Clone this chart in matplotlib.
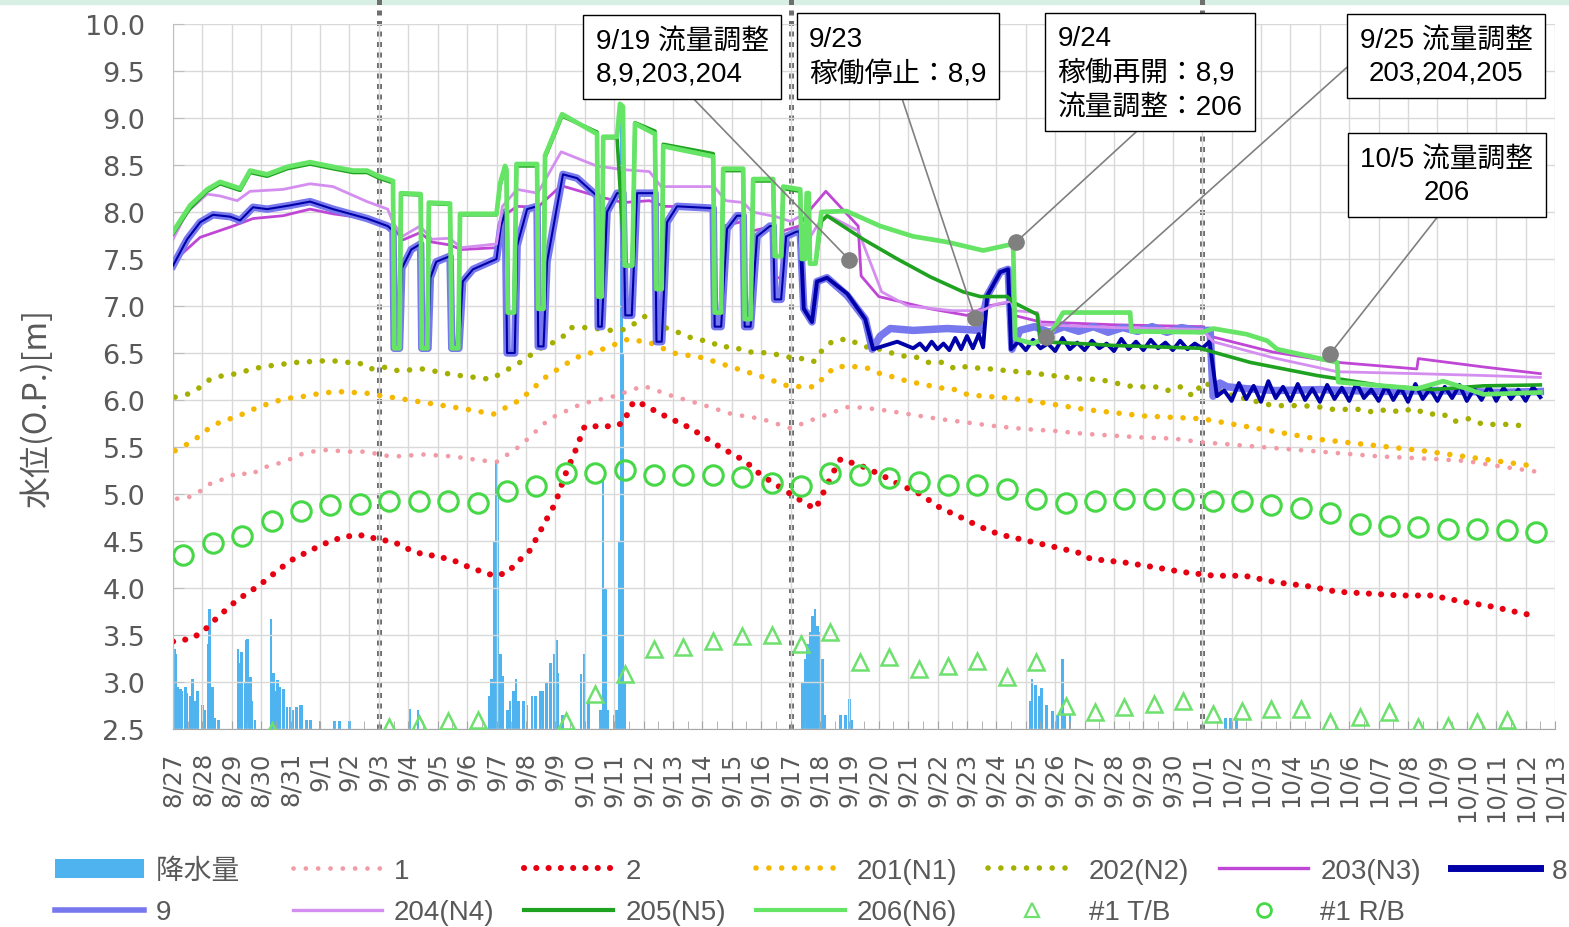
import numpy as np
import pandas as pd
import matplotlib
matplotlib.use("Agg")
import matplotlib.pyplot as plt
import matplotlib.dates as mdates
from matplotlib.ticker import FuncFormatter, FormatStrFormatter, MultipleLocator
from matplotlib.font_manager import FontProperties
from matplotlib.patches import Patch, Rectangle
from matplotlib.lines import Line2D

plt.rcParams['font.family'] = ['DejaVu Sans', 'Noto Sans CJK JP']
SANS_JP = ['Liberation Sans', 'Noto Sans CJK JP']

start = pd.Timestamp("2019-08-27")
n_days = 47

# hourly rainfall [mm]: hours since 8/27 00:00
rain_h = [1, 2, 4, 6, 7, 10, 11, 14, 16, 18, 20, 24, 26, 29, 30, 32, 34, 37,
          53, 55, 56, 59, 60, 61, 63, 64, 67,
          80, 82, 83, 85, 87, 90, 93, 96, 98, 101, 104, 105, 109, 112,
          120, 132, 136, 144, 193, 200,
          258, 260, 262, 264, 265, 267, 269, 273, 275, 278, 280, 282, 286, 289,
          293, 296, 300, 302, 305, 308, 311, 313, 314, 318, 333, 336, 339,
          349, 351, 353, 355, 360, 362, 364, 366, 367, 369,
          514, 516, 518, 520, 522, 524, 526, 528, 530, 532, 545, 549, 552, 554,
          700, 701, 704, 707, 709, 713, 718, 722, 726, 728, 732,
          859, 863, 868]
rain_mm = [8.5, 8.0, 4.5, 4.2, 4.0, 4.5, 3.8, 3.5, 5.3, 3.0, 4.0, 2.5, 2.0, 9.0, 12.8, 4.5, 1.2, 1.0,
           8.5, 7.0, 8.2, 5.0, 9.5, 9.6, 5.5, 3.0, 1.0,
           11.7, 6.0, 4.0, 5.2, 4.5, 4.2, 2.3, 2.3, 2.0, 2.3, 2.5, 2.5, 1.0, 1.0,
           0.8, 0.8, 0.8, 0.8, 2.1, 2.0,
           3.5, 5.3, 20.0, 28.5, 25.0, 8.0, 5.6, 2.0, 3.0, 4.0, 5.3, 3.0, 3.0, 2.5,
           3.5, 3.5, 4.0, 4.0, 5.0, 7.0, 8.0, 9.5, 6.0, 1.5, 5.8, 8.0, 3.0,
           2.0, 26.6, 15.0, 2.0, 1.5, 2.0, 20.0, 66.5, 40.0, 5.0,
           5.0, 7.4, 9.0, 10.3, 12.0, 12.8, 11.0, 10.3, 7.4, 1.5, 1.5, 1.5, 3.2, 1.0,
           3.0, 5.3, 4.7, 3.5, 4.4, 2.5, 1.9, 1.5, 7.4, 1.5, 1.5,
           1.2, 1.2, 1.2]

# observation wells (days since 8/27 00:00)
t1 = [0.14, 0.5, 0.92, 1.36, 1.77, 2.21, 2.62, 3.06, 3.54, 3.98, 4.42, 4.9, 5.34, 5.78, 6.19,
      6.63, 7.11, 7.62, 8.5, 9.5, 10.4, 11.0, 11.8, 12.8, 13.9, 15.0, 16.0, 17.0, 18.0, 19.0,
      20.0, 21.0, 22.0, 23.0, 24.0, 25.0, 26.0, 27.0, 28.0, 29.0, 30.0, 31.0, 32.0, 33.0, 34.0,
      35.0, 37.0, 39.0, 41.0, 43.0, 44.0, 45.0, 46.3]
v1 = [4.95, 4.96, 5.03, 5.13, 5.16, 5.23, 5.20, 5.28, 5.32, 5.37, 5.43, 5.46, 5.47, 5.45, 5.45,
      5.45, 5.41, 5.40, 5.42, 5.40, 5.36, 5.34, 5.51, 5.80, 5.96, 6.04, 6.15, 6.04, 5.95, 5.85,
      5.80, 5.70, 5.82, 5.93, 5.90, 5.85, 5.80, 5.76, 5.72, 5.69, 5.67, 5.64, 5.62, 5.60, 5.59,
      5.55, 5.50, 5.45, 5.40, 5.37, 5.35, 5.30, 5.24]

t2 = [0.0, 0.6, 1.0, 1.35, 1.7, 2.1, 2.5, 2.9, 3.3, 3.7, 4.1, 4.55, 5.0, 5.45, 5.95,
      6.45, 6.95, 7.5, 8.03, 8.47, 8.95, 9.56, 10.0, 10.44, 10.92, 11.36, 11.73, 12.14, 12.65, 13.0,
      13.33, 13.67, 14.0, 14.85, 15.3, 15.6, 15.75, 16.6, 17.6, 18.6, 19.45, 20.0, 21.0, 21.5, 21.85,
      22.4, 22.7, 23.4, 24.1, 24.7, 25.4, 26.1, 26.8, 27.45, 28.1, 28.8, 29.5, 30.2, 30.85, 31.2,
      32.38, 33.4, 34.32, 35.41, 36.43, 37.52, 38.57, 39.59, 40.68, 41.77, 42.82, 43.91, 44.9, 45.88, 46.39]
v2 = [3.43, 3.46, 3.53, 3.64, 3.74, 3.85, 3.94, 4.02, 4.12, 4.22, 4.31, 4.38, 4.45, 4.51, 4.55,
      4.56, 4.52, 4.49, 4.41, 4.36, 4.34, 4.29, 4.23, 4.18, 4.13, 4.16, 4.28, 4.40, 4.70, 4.90,
      5.20, 5.45, 5.72, 5.72, 5.75, 5.95, 5.99, 5.85, 5.70, 5.50, 5.35, 5.20, 5.00, 4.90, 4.84,
      5.20, 5.37, 5.30, 5.20, 5.10, 5.00, 4.85, 4.75, 4.65, 4.57, 4.52, 4.47, 4.42, 4.37, 4.31,
      4.27, 4.22, 4.17, 4.13, 4.13, 4.06, 4.02, 3.96, 3.94, 3.92, 3.92, 3.85, 3.80, 3.73, 3.70]

t201 = [0.07, 0.48, 0.92, 1.26, 1.7, 2.18, 2.55, 3.06, 3.54, 3.98, 4.49, 5.0, 5.58, 6.12, 6.63,
        7.14, 7.62, 8.0, 9.0, 10.0, 10.9, 11.8, 12.7, 13.7, 14.7, 15.5, 16.3, 17.0, 18.0, 19.0,
        20.0, 20.9, 21.4, 21.8, 22.1, 22.5, 23.0, 23.6, 24.05, 24.55, 25.07, 25.5, 26.0, 26.5, 27.0,
        27.55, 28.05, 29.0, 31.0, 33.0, 35.0, 37.0, 39.0, 42.5, 46.2]
v201 = [5.46, 5.53, 5.62, 5.71, 5.78, 5.82, 5.88, 5.94, 5.99, 6.02, 6.04, 6.07, 6.09, 6.08, 6.07,
        6.04, 6.02, 6.00, 5.95, 5.90, 5.85, 6.00, 6.25, 6.45, 6.55, 6.65, 6.60, 6.50, 6.45, 6.35,
        6.25, 6.15, 6.14, 6.14, 6.23, 6.35, 6.36, 6.34, 6.28, 6.24, 6.19, 6.17, 6.13, 6.12, 6.06,
        6.04, 6.03, 6.00, 5.90, 5.83, 5.80, 5.69, 5.58, 5.46, 5.30]

t202 = [0.07, 0.48, 0.85, 1.26, 1.7, 2.18, 2.69, 3.2, 3.71, 4.22, 4.76, 5.34, 5.92, 6.29, 6.7,
        7.28, 7.65, 8.5, 9.5, 10.0, 10.8, 11.8, 12.5, 13.2, 13.5, 14.2, 14.8, 15.4, 16.1, 16.8,
        17.35, 17.7, 18.3, 18.6, 19.05, 19.5, 19.9, 20.4, 20.8, 21.1, 21.6, 21.8, 22.1, 22.45, 22.95,
        23.47, 24.05, 24.73, 25.24, 25.68, 26.19, 26.6, 27.04, 27.52, 27.89, 28.37, 28.81, 29.39, 29.9, 30.41,
        30.92, 31.46, 31.94, 32.45, 32.82, 33.4, 33.81, 34.25, 34.69, 35.03, 36.0, 37.4, 38.3, 38.9, 39.45,
        40.4, 40.82, 41.3, 41.74, 42.18, 42.65, 43.2, 43.54, 44.05, 44.56, 45.04, 45.58, 46.1]
v202 = [6.03, 6.06, 6.12, 6.22, 6.26, 6.28, 6.33, 6.36, 6.38, 6.40, 6.41, 6.42, 6.40, 6.40, 6.33,
        6.35, 6.31, 6.33, 6.27, 6.25, 6.22, 6.40, 6.55, 6.65, 6.77, 6.77, 6.74, 6.75, 6.90, 6.76,
        6.70, 6.65, 6.62, 6.56, 6.57, 6.51, 6.51, 6.49, 6.47, 6.44, 6.44, 6.41, 6.54, 6.63, 6.65,
        6.57, 6.54, 6.47, 6.46, 6.40, 6.40, 6.33, 6.36, 6.33, 6.33, 6.31, 6.30, 6.28, 6.26, 6.24,
        6.22, 6.22, 6.19, 6.15, 6.14, 6.14, 6.10, 6.14, 6.04, 6.19, 6.05, 5.94, 5.94, 5.93, 5.90,
        5.90, 5.87, 5.90, 5.87, 5.91, 5.85, 5.85, 5.77, 5.80, 5.74, 5.74, 5.74, 5.71]

# pumping wells
t203 = [0, 0.92, 2.04, 2.72, 3.74, 4.66, 5.44, 6.6, 7.3, 7.48, 7.8, 8.4, 8.8, 9.4, 9.8,
        11.0, 11.2, 11.7, 12.4, 13.2, 14.4, 15.3, 16.2, 16.7, 18.37, 18.44, 18.6, 18.71, 19.39, 19.46,
        19.6, 19.73, 20.41, 20.5, 20.7, 20.75, 21.3, 21.6, 22.2, 23.3, 23.4, 24.0, 25.75, 27.0, 27.7,
        28.5, 28.6, 29.5, 32.0, 35.0, 35.37, 37.4, 39.6, 42.3, 42.35, 44.6, 46.5]
v203 = [7.47, 7.73, 7.85, 7.93, 7.96, 8.03, 7.98, 7.93, 7.87, 7.85, 7.70, 7.78, 7.68, 7.65, 7.60,
        7.62, 7.95, 8.06, 8.05, 8.28, 8.17, 8.10, 8.12, 8.06, 8.05, 6.79, 6.79, 7.85, 7.90, 6.80,
        6.80, 7.80, 7.85, 7.30, 7.30, 7.80, 7.85, 8.00, 8.22, 7.85, 7.32, 7.10, 6.97, 6.90, 7.00,
        7.04, 6.90, 6.83, 6.80, 6.78, 6.67, 6.51, 6.40, 6.33, 6.44, 6.35, 6.28]

t204 = [0, 0.48, 1.16, 1.6, 2.18, 2.62, 3.74, 4.66, 5.44, 6.6, 7.3, 7.48, 7.8, 8.4, 8.8,
        9.4, 9.8, 11.0, 11.2, 11.7, 12.4, 13.2, 14.4, 15.3, 16.2, 16.6, 18.4, 18.8, 19.4, 19.7,
        20.5, 21.0, 21.3, 21.6, 22.0, 22.3, 23.3, 24.1, 25.0, 26.5, 27.5, 28.0, 28.5, 28.6, 29.4,
        29.5, 32.0, 35.0, 35.37, 37.4, 39.6, 42.3, 44.6, 46.5]
v204 = [7.71, 8.00, 8.19, 8.17, 8.12, 8.22, 8.24, 8.30, 8.27, 8.11, 8.03, 7.89, 7.74, 7.85, 7.71,
        7.72, 7.62, 7.66, 8.06, 8.24, 8.20, 8.64, 8.49, 8.45, 8.43, 8.27, 8.27, 8.12, 8.10, 8.00,
        7.95, 7.90, 7.95, 7.70, 7.90, 7.96, 7.80, 7.15, 7.00, 6.95, 6.95, 7.02, 7.05, 6.95, 6.93,
        6.80, 6.77, 6.75, 6.62, 6.45, 6.30, 6.28, 6.26, 6.24]

# wells 8 and 9 share one record until 9/17
t89 = [0, 0.48, 0.92, 1.36, 1.94, 2.28, 2.72, 3.2, 3.98, 4.66, 5.44, 6.6, 7.3, 7.48,
       7.52, 7.7, 7.78, 8.1, 8.42,
       8.46, 8.67, 8.75, 8.95, 9.42,
       9.48, 9.72, 9.85, 10.2, 11.0, 11.15, 11.3,
       11.36, 11.62, 11.7, 12.04, 12.38,
       12.42, 12.6, 12.72, 13.06, 13.26, 13.74, 14.42,
       14.46, 14.58, 14.76, 15.1, 15.3,
       15.38, 15.6, 15.78, 16.39,
       16.44, 16.62, 16.8, 17.14, 18.37,
       18.42, 18.64, 18.84, 19.18, 19.39,
       19.44, 19.64, 19.86, 20.3, 20.41,
       20.46, 20.68, 20.85, 21.2, 21.33]
v89 = [7.43, 7.71, 7.89, 7.97, 7.95, 7.91, 8.05, 8.03, 8.07, 8.11, 8.03, 7.93, 7.85, 7.80,
       6.55, 6.55, 7.40, 7.60, 7.66,
       6.55, 6.55, 7.30, 7.47, 7.53,
       6.55, 6.55, 7.26, 7.39, 7.50, 7.85, 8.00,
       6.50, 6.50, 7.64, 8.03, 8.06,
       6.57, 6.57, 7.47, 8.06, 8.40, 8.36, 8.17,
       6.78, 6.78, 8.00, 8.20, 8.20,
       6.90, 6.90, 8.20, 8.20,
       6.62, 6.62, 7.89, 8.06, 8.04,
       6.78, 6.78, 7.82, 7.96, 7.96,
       6.78, 6.78, 7.74, 7.85, 7.85,
       7.07, 7.07, 7.74, 7.79, 7.79]

t9_late = [21.45, 21.73, 21.9, 22.24, 22.93, 23.54, 23.78, 24.05, 24.39, 25.17, 26.33, 27.45, 27.69,
           28.13, 28.4, 28.53, 28.8, 29.3, 29.8, 30.3, 30.8, 31.3, 31.8, 32.3, 32.8, 33.3, 33.8,
           34.3, 34.8, 35.27, 35.37, 35.6, 35.85, 36.5, 37.5, 39.0, 41.0, 43.0, 45.0, 46.5]
v9_late = [6.97, 6.83, 7.26, 7.30, 7.11, 6.86, 6.54, 6.68, 6.76, 6.74, 6.76, 6.74, 7.11,
           7.36, 7.39, 6.54, 6.74, 6.78, 6.72, 6.78, 6.73, 6.78, 6.72, 6.77, 6.73, 6.78, 6.72,
           6.77, 6.74, 6.74, 6.04, 6.18, 6.14, 6.12, 6.10, 6.11, 6.09, 6.10, 6.08, 6.09]

t8_late = [21.33, 21.45, 21.73, 21.9, 22.24, 22.93, 23.54, 23.81, 24.63, 25.17, 25.4, 25.6, 25.8, 26.0,
           26.2, 26.4, 26.6, 26.8, 27.0, 27.2, 27.4, 27.55, 27.69, 28.13, 28.4, 28.5]
v8_late = [7.79, 6.97, 6.83, 7.26, 7.30, 7.13, 6.86, 6.54, 6.62, 6.55, 6.60, 6.53, 6.62, 6.54,
           6.60, 6.53, 6.66, 6.54, 6.68, 6.55, 6.70, 6.56, 7.11, 7.36, 7.39, 6.54]
# well 8 after restart: readings every 6 h from 9/24 18:00, then from 10/1 12:00
v8_band1 = [6.62, 6.53, 6.64, 6.55, 6.60, 6.52, 6.66, 6.54, 6.61, 6.53, 6.63, 6.55, 6.60, 6.52,
            6.65, 6.54, 6.62, 6.53, 6.64, 6.55, 6.61, 6.53, 6.63, 6.54, 6.60, 6.55, 6.62]
v8_band2 = [6.04, 6.10, 5.99, 6.18, 6.01, 6.15, 5.98, 6.20, 6.02, 6.14, 5.99, 6.17, 6.00, 6.12, 5.98,
            6.16, 6.01, 6.13, 5.99, 6.18, 6.02, 6.11, 5.99, 6.15, 6.00, 6.13, 5.98, 6.17, 6.01, 6.12,
            5.99, 6.14, 6.02, 6.16, 5.99, 6.12, 6.00, 6.15, 5.99, 6.13, 6.01, 6.11, 5.99, 6.14, 6.03]

t205 = [0, 0.58, 1.16, 1.6, 2.28, 2.62, 3.2, 3.88, 4.66, 5.44, 6.12, 6.6, 7.0, 7.48,
        7.52, 7.7, 7.75, 8.42,
        8.46, 8.65, 8.7, 9.42,
        9.48, 9.7, 9.76, 11.0, 11.12, 11.29, 11.34,
        11.38, 11.6, 11.68, 12.38,
        12.42, 12.6, 12.65, 13.23, 14.42,
        14.46, 14.58, 14.63, 15.1,
        15.36, 15.62, 15.71, 16.39,
        16.44, 16.62, 16.67, 18.37,
        18.42, 18.64, 18.71, 19.39,
        19.44, 19.64, 19.73, 20.41,
        20.46, 20.68, 20.75, 21.33,
        21.38, 21.5, 21.55, 21.62, 21.66, 21.85, 22.05, 22.24, 23.47, 24.63, 25.75, 26.87, 27.45, 28.37, 28.57, 29.39,
        29.49, 30.85, 31.97, 34.93, 35.37, 36.63, 38.91, 41.16, 42.86, 44.56, 46.5]
v205 = [7.77, 8.04, 8.22, 8.30, 8.23, 8.42, 8.38, 8.46, 8.51, 8.46, 8.42, 8.42, 8.36, 8.31,
        6.55, 6.55, 8.19, 8.18,
        6.55, 6.55, 8.09, 8.08,
        6.55, 6.55, 7.97, 7.97, 8.28, 8.47, 8.43,
        6.93, 6.93, 8.49, 8.49,
        6.97, 6.97, 8.58, 9.02, 8.85,
        7.10, 7.10, 8.79, 8.79,
        7.43, 7.43, 8.95, 8.86,
        7.18, 7.18, 8.72, 8.62,
        6.93, 6.93, 8.44, 8.44,
        6.86, 6.86, 8.33, 8.33,
        7.53, 7.53, 8.25, 8.22,
        7.50, 7.50, 8.18, 8.18, 7.45, 7.45, 7.90, 7.96, 7.71, 7.50, 7.31, 7.15, 7.10, 7.10, 7.04, 6.91,
        6.62, 6.60, 6.58, 6.55, 6.51, 6.40, 6.26, 6.15, 6.11, 6.15, 6.16]

t206 = [0, 0.58, 1.16, 1.6, 2.28, 2.62, 3.2, 3.88, 4.66, 5.44, 6.12, 6.6, 7.0, 7.48,
        7.52, 7.7, 7.75, 8.42,
        8.46, 8.65, 8.7, 9.42,
        9.48, 9.7, 9.76, 11.0, 11.12, 11.29, 11.34,
        11.38, 11.6, 11.68, 12.38,
        12.42, 12.6, 12.65, 13.23, 14.42,
        14.46, 14.58, 14.63, 15.1, 15.2, 15.3,
        15.36, 15.62, 15.71, 16.39,
        16.44, 16.62, 16.67, 18.37,
        18.42, 18.64, 18.71, 19.39,
        19.44, 19.64, 19.73, 20.41,
        20.46, 20.68, 20.75, 21.33,
        21.38, 21.5, 21.55, 21.62, 21.66, 21.85, 22.05, 22.9, 24.05, 25.17, 26.33, 27.55, 28.57,
        28.64, 29.25, 29.8, 30.27, 32.55, 32.59, 35.0, 35.37, 36.5, 37.21, 37.55, 39.59, 39.63,
        42.31, 43.2, 44.01, 44.56, 46.5]
v206 = [7.79, 8.07, 8.24, 8.32, 8.25, 8.44, 8.40, 8.48, 8.53, 8.48, 8.44, 8.44, 8.38, 8.33,
        6.55, 6.55, 8.20, 8.19,
        6.55, 6.55, 8.10, 8.09,
        6.55, 6.55, 7.98, 7.98, 8.30, 8.49, 8.45,
        6.93, 6.93, 8.51, 8.51,
        6.97, 6.97, 8.60, 9.04, 8.83,
        7.10, 7.10, 8.80, 8.80, 9.15, 9.12,
        7.43, 7.43, 8.94, 8.83,
        7.18, 7.18, 8.70, 8.59,
        6.93, 6.93, 8.46, 8.46,
        6.86, 6.86, 8.35, 8.35,
        7.53, 7.53, 8.27, 8.24,
        7.50, 7.50, 8.20, 8.20, 7.45, 7.45, 8.00, 8.01, 7.85, 7.74, 7.68, 7.59, 7.66,
        6.65, 6.60, 6.68, 6.93, 6.93, 6.73, 6.72, 6.76, 6.70, 6.63, 6.54, 6.40, 6.19,
        6.12, 6.20, 6.12, 6.06, 6.08]

# #1 T/B and #1 R/B, read once a day around 8:30
tb_day = [3, 7, 8, 9, 10, 13, 14, 15, 16, 17, 18, 19, 20, 21, 22, 23, 24, 25, 26, 27, 28, 29,
          30, 31, 32, 33, 34, 35, 36, 37, 38, 39, 40, 41, 42, 43, 44, 45]
tb_val = [2.48, 2.52, 2.55, 2.58, 2.60, 2.58, 2.87, 3.08, 3.35, 3.37, 3.44, 3.49, 3.50, 3.40,
          3.53, 3.21, 3.27, 3.14, 3.17, 3.22, 3.05, 3.21, 2.74, 2.68, 2.73, 2.77, 2.80, 2.66,
          2.69, 2.71, 2.71, 2.57, 2.63, 2.68, 2.52, 2.53, 2.57, 2.60]
rb_val = [4.35, 4.48, 4.55, 4.71, 4.82, 4.88, 4.89, 4.92, 4.93, 4.93, 4.90, 5.03, 5.08, 5.22,
          5.22, 5.25, 5.20, 5.20, 5.20, 5.18, 5.12, 5.09, 5.22, 5.20, 5.17, 5.13, 5.10, 5.10,
          5.05, 4.95, 4.90, 4.93, 4.95, 4.95, 4.95, 4.93, 4.92, 4.88, 4.85, 4.80, 4.68, 4.66,
          4.65, 4.63, 4.63, 4.62, 4.60]

# operation notes
note_text = ["9/19 流量調整\n8,9,203,204", "9/23\n稼働停止：8,9",
             "9/24\n稼働再開：8,9\n流量調整：206", "9/25 流量調整\n203,204,205",
             "10/5 流量調整\n206"]
note_day = [23.0, 27.28, 28.67, 29.69, 39.35]
note_level = [7.49, 6.87, 7.68, 6.67, 6.49]

C_RAIN = '#4fb3ef'
C1, C2, C201, C202 = '#f29aa6', '#e60012', '#f5b800', '#a4b000'
C203, C204, C8, C9 = '#c046d6', '#d48ef0', '#0000a8', '#7878ee'
C205, C206 = '#1fa21f', '#66e466'
C_TB, C_RB = '#6ee06e', '#46d846'
GRAY_TXT = '#595959'


def when(days):
    return mdates.date2num(start) + np.asarray(days, dtype=float)


def dots(gap):
    return (0, (0.01, gap))


fig, ax = plt.subplots(figsize=(15.69, 9.28), dpi=100)
fig.subplots_adjust(left=0.1103, right=0.9911, top=0.9731, bottom=0.2134)
fig.patches.append(Rectangle((0, 0.9945), 1, 0.0055, transform=fig.transFigure,
                             color='#d8efe6', zorder=0))

# rainfall on a hidden secondary axis
ax2 = ax.twinx()
ax2.bar(when(np.asarray(rain_h) / 24.0), rain_mm, width=2.2 / 24, color=C_RAIN, linewidth=0)
ax2.set_ylim(0, 75)
ax2.axis('off')
ax.set_zorder(ax2.get_zorder() + 1)
ax.patch.set_visible(False)

# dotted observation wells
ax.plot(when(t1), v1, color=C1, lw=3.4, ls=dots(2.6), dash_capstyle='round', zorder=2)
ax.plot(when(t2), v2, color=C2, lw=4.4, ls=dots(2.0), dash_capstyle='round', zorder=2)
ax.plot(when(t201), v201, color=C201, lw=4.0, ls=dots(2.3), dash_capstyle='round', zorder=2)
ax.plot(when(t202), v202, color=C202, lw=4.0, ls=dots(2.3), dash_capstyle='round', zorder=2)

# pumping wells
ax.plot(when(t203), v203, color=C203, lw=2.0, zorder=3)
ax.plot(when(t89 + t9_late), v89 + v9_late, color=C9, lw=5.4, zorder=4)
# well 8: thin while it runs with 9, heavier once the records part
ax.plot(when(t89), v89, color=C8, lw=1.5, zorder=5)
t8_band1 = np.linspace(28.75, 35.25, len(v8_band1))
t8_band2 = np.linspace(35.5, 46.5, len(v8_band2))
t8 = np.concatenate([t8_late, t8_band1, t8_band2])
v8 = np.concatenate([v8_late, v8_band1, v8_band2])
ax.plot(when(t8), v8, color=C8, lw=2.8, zorder=5)
ax.plot(when(t204), v204, color=C204, lw=2.0, zorder=6)
ax.plot(when(t205), v205, color=C205, lw=2.6, zorder=7)
ax.plot(when(t206), v206, color=C206, lw=3.4, zorder=8)

ax.plot(when(np.asarray(tb_day) + 8.5 / 24), tb_val, ls='none', marker='^', ms=12,
        mfc='none', mec=C_TB, mew=1.8, zorder=9)
ax.plot(when(np.arange(len(rb_val)) + 8.5 / 24), rb_val, ls='none', marker='o', ms=14,
        mfc='none', mec=C_RB, mew=2.2, zorder=9)

# dividers between operating periods
for d in ["2019-09-03", "2019-09-17", "2019-10-01"]:
    ax.axvline(mdates.date2num(pd.Timestamp(d)), ymin=0, ymax=1.037, color='#6e6e6e', lw=3.6,
               ls=(0, (1, 1.1)), clip_on=False, zorder=1)

# annotation boxes
box_xy = [(682, 58), (898, 57), (1150, 73), (1446, 57), (1447, 176)]
box_align = ['left', 'left', 'left', 'center', 'center']
box_rel = [(0.5, 0), (0.5, 0), (0.5, 0), (0, 0.5), (0.5, 0)]
ax.plot(when(note_day), note_level, ls='none', marker='o', ms=11, color='#808080', zorder=11)
for txt, d, lv, (bx, by), al, rel in zip(note_text, note_day, note_level, box_xy, box_align, box_rel):
    ax.annotate(txt, xy=(when(d), lv), xytext=(bx / 1569, 1 - by / 928), textcoords='figure fraction',
                ha='center', va='center', multialignment=al, fontsize=20, linespacing=1.38,
                fontfamily=SANS_JP, color='black', annotation_clip=False, zorder=12,
                bbox=dict(boxstyle='square,pad=0.44', fc='white', ec='black', lw=1.0),
                arrowprops=dict(arrowstyle='-', color='#808080', lw=1.2, relpos=rel,
                                shrinkA=0, shrinkB=0))

# axes
ax.set_xlim(when(0), when(n_days))
ax.set_ylim(2.5, 10.0)
ax.yaxis.set_major_locator(MultipleLocator(0.5))
ax.yaxis.set_major_formatter(FormatStrFormatter('%.1f'))
ax.xaxis.set_major_locator(mdates.DayLocator())
ax.xaxis.set_minor_locator(mdates.HourLocator(byhour=[12]))
ax.xaxis.set_major_formatter(FuncFormatter(
    lambda x, p: f"{mdates.num2date(x).month}/{mdates.num2date(x).day}"))
ax.grid(True, which='major', color='#d9d9d9', lw=1.0)
for s in ['top', 'right']:
    ax.spines[s].set_visible(False)
ax.spines['left'].set_color('#bfbfbf')
ax.spines['bottom'].set_color('#a6a6a6')
ax.tick_params(axis='x', which='major', direction='in', length=6, color='#a6a6a6',
               labelrotation=90, labelsize=17.5, labelcolor=GRAY_TXT, pad=16)
ax.tick_params(axis='x', which='minor', direction='in', length=6, color='#a6a6a6')
ax.tick_params(axis='y', direction='in', length=8, color='#bfbfbf', labelsize=19.5,
               labelcolor=GRAY_TXT, pad=20)

fig.text(0.023, 1 - 409 / 928, "水位(O.P.)[m]", rotation=90, ha='center', va='center',
         fontsize=23, color=GRAY_TXT, fontfamily=['Noto Sans CJK JP'])

# legend, filled column by column
dot_kw = dict(dash_capstyle='round')
h = {
    'rain': Patch(facecolor=C_RAIN, edgecolor='none'),
    '1': Line2D([], [], color=C1, lw=3.4, ls=dots(2.6), **dot_kw),
    '2': Line2D([], [], color=C2, lw=4.4, ls=dots(2.0), **dot_kw),
    '201': Line2D([], [], color=C201, lw=4.0, ls=dots(2.3), **dot_kw),
    '202': Line2D([], [], color=C202, lw=4.0, ls=dots(2.3), **dot_kw),
    '203': Line2D([], [], color=C203, lw=2.4),
    '8': Line2D([], [], color=C8, lw=5),
    '9': Line2D([], [], color=C9, lw=4),
    '204': Line2D([], [], color=C204, lw=2.4),
    '205': Line2D([], [], color=C205, lw=3),
    '206': Line2D([], [], color=C206, lw=3),
    'tb': Line2D([], [], ls='none', marker='^', ms=10, mfc='none', mec=C_TB, mew=1.6),
    'rb': Line2D([], [], ls='none', marker='o', ms=10, mfc='none', mec=C_RB, mew=2),
}
order = [('rain', '降水量   '), ('9', '9'), ('1', '1'), ('204', '204(N4)'), ('2', '2'),
         ('205', '205(N5)'), ('201', '201(N1)'), ('206', '206(N6)'), ('202', '202(N2)'),
         ('tb', '#1 T/B'), ('203', '203(N3)'), ('rb', '#1 R/B'), ('8', '8')]
fig.legend([h[k] for k, _ in order], [l for _, l in order], ncol=7, loc='upper left',
           bbox_to_anchor=(0.0351, 0.0744), frameon=False,
           prop=FontProperties(family=SANS_JP, size=20),
           handlelength=3.2, handletextpad=0.43, columnspacing=1.09, labelspacing=0.55,
           borderpad=0, borderaxespad=0, labelcolor=GRAY_TXT)

fig.savefig("out.png", dpi=100)
